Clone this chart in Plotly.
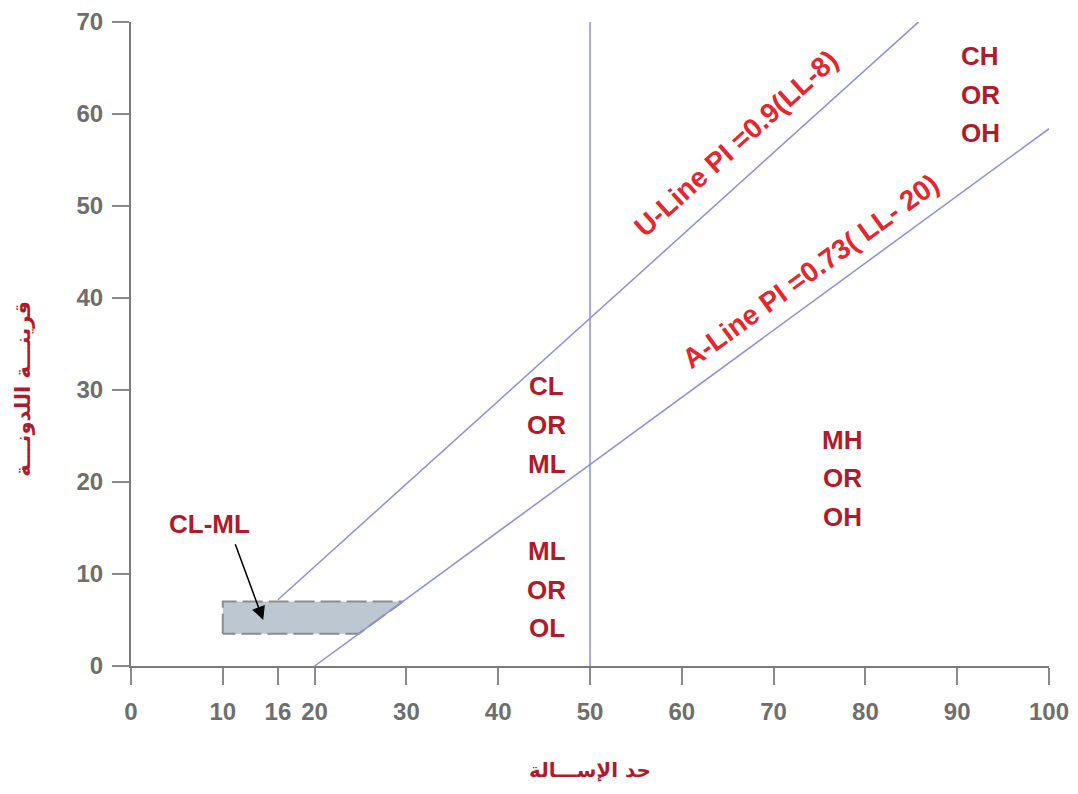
import plotly.graph_objects as go

# ---- data ----
u_ll = [16, 85.8]
u_pi = [0.9 * (v - 8) for v in u_ll]
a_ll = [20, 100]
a_pi = [0.73 * (v - 20) for v in a_ll]
v_ll = [50, 50]
v_pi = [0, 70]
box_ll = [10, 10, 29.6, 24.8, 10]
box_pi = [3.5, 7, 7, 3.5, 3.5]
x_ticks = [0, 10, 16, 20, 30, 40, 50, 60, 70, 80, 90, 100]
y_ticks = [0, 10, 20, 30, 40, 50, 60, 70]
zone_words = [["CL", "OR", "ML"], ["ML", "OR", "OL"], ["MH", "OR", "OH"], ["CH", "OR", "OH"]]
zone_x = [45.3, 45.3, 77.5, 92.5]
zone_y = [26.2, 8.3, 20.4, 62.1]

LINE = "#8a90dc"
DARKRED = "#b01b2c"
RED = "#e4262e"
GRAY = "#6e6e6e"

fig = go.Figure()
fig.add_trace(go.Scatter(x=box_ll, y=box_pi, mode="lines", fill="toself",
                         fillcolor="#bdc7d1",
                         line=dict(color="#8c8c8c", width=2, dash="20px,6px"),
                         hoverinfo="skip"))
fig.add_trace(go.Scatter(x=u_ll, y=u_pi, mode="lines", line=dict(color=LINE, width=1.5)))
fig.add_trace(go.Scatter(x=a_ll, y=a_pi, mode="lines", line=dict(color=LINE, width=1.5)))
fig.add_trace(go.Scatter(x=v_ll, y=v_pi, mode="lines", line=dict(color=LINE, width=1.5)))

bold = "Liberation Sans"
line_gap = 4.2  # data units between stacked words
for words, cx, cy in zip(zone_words, zone_x, zone_y):
    n = len(words)
    for i, w in enumerate(words):
        fig.add_annotation(x=cx, y=cy + (n - 1) / 2 * line_gap - i * line_gap, text="<b>" + w + "</b>",
                           showarrow=False, font=dict(family=bold, size=26, color=DARKRED))

fig.add_annotation(x=8.6, y=15.4, text="<b>CL-ML</b>", showarrow=False,
                   font=dict(family=bold, size=26, color=DARKRED))
fig.add_annotation(x=14.4, y=5.0, ax=11.3, ay=13.4, axref="x", ayref="y", xref="x", yref="y",
                   text="", showarrow=True, arrowhead=2, arrowsize=1.8, arrowwidth=1.5,
                   arrowcolor="black")

fig.add_annotation(x=65.9, y=56.8, text="<b>U-Line PI =0.9(LL-8)</b>", showarrow=False,
                   textangle=-42, font=dict(family=bold, size=28, color=RED))
fig.add_annotation(x=74.0, y=42.9, text="<b>A-Line PI =0.73( LL- 20)</b>", showarrow=False,
                   textangle=-36, font=dict(family=bold, size=28, color=RED))

# axis titles
fig.add_annotation(x=0.5, y=-0.162, xref="paper", yref="paper", yanchor="middle",
                   text="<b>حد الإســـالة</b>", showarrow=False,
                   font=dict(family="DejaVu Sans", size=20, color=DARKRED))
fig.add_annotation(x=-0.118, y=0.43, xref="paper", yref="paper", xanchor="center",
                   text="<b>قرينـــة اللدونـــة</b>", showarrow=False, textangle=-90,
                   font=dict(family="DejaVu Sans", size=21, color=DARKRED))

axis_common = dict(showgrid=False, zeroline=False, showline=True, linecolor="#7a7a7a", linewidth=2,
                   ticks="outside", ticklen=17, tickwidth=2, tickcolor="#8a8a8a", automargin=False,
                   tickfont=dict(family=bold, size=24, color=GRAY))
fig.update_xaxes(range=[0, 100], tickvals=x_ticks, ticktext=["<b>%d</b>" % v for v in x_ticks],
                 ticklabelstandoff=6, **axis_common)
fig.update_yaxes(range=[0, 70], tickvals=y_ticks, ticktext=["<b>%d</b>" % v for v in y_ticks],
                 ticklabelstandoff=4, **axis_common)

# the page body adds an 8px offset; compensate so the plot area lands where the reference has it
fig.update_layout(width=1070, height=786, showlegend=False,
                  plot_bgcolor="white", paper_bgcolor="white",
                  margin=dict(l=123, r=29, t=14, b=128))
fig.write_html("out.html")
